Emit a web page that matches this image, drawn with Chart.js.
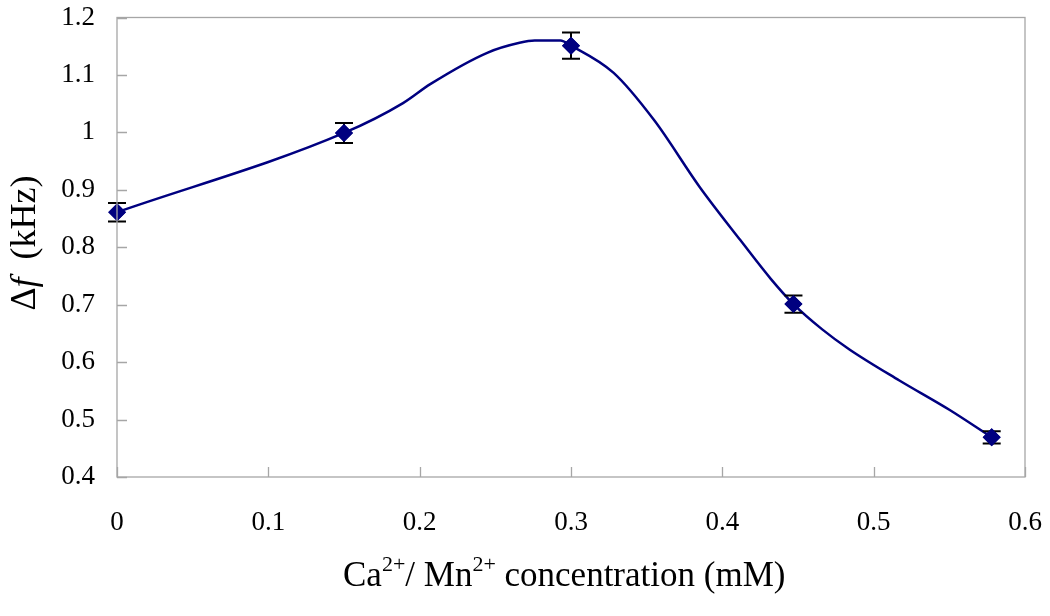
<!DOCTYPE html>
<html>
<head>
<meta charset="utf-8">
<script src="https://cdn.jsdelivr.net/npm/chart.js@4.4.1/dist/chart.umd.min.js"></script>
<style>
  html, body { margin: 0; padding: 0; background: #fff; }
  #wrap { width: 1050px; height: 616px; }
</style>
</head>
<body>
<div id="wrap"><canvas id="dfChart"></canvas></div>
<script>
// measured points (mean +/- error)
const concentration = [0, 0.15, 0.30, 0.447, 0.578];
const deltaF = [0.861, 0.999, 1.151, 0.701, 0.469];
const deltaFErr = [0.016, 0.0175, 0.023, 0.015, 0.0105];

// smooth trend curve drawn through the data
const curveX = [0, 0.15, 0.189, 0.207, 0.245, 0.266, 0.276, 0.293, 0.30, 0.328, 0.355, 0.385, 0.412, 0.432, 0.447, 0.466, 0.484, 0.517, 0.55, 0.578];
const curveY = [0.861, 0.999, 1.051, 1.084, 1.139, 1.156, 1.160, 1.160, 1.151, 1.104, 1.021, 0.905, 0.812, 0.745, 0.701, 0.657, 0.622, 0.568, 0.517, 0.469];

const xTicks = [0, 0.1, 0.2, 0.3, 0.4, 0.5, 0.6];
const xTickLabels = ['0', '0.1', '0.2', '0.3', '0.4', '0.5', '0.6'];
const yTicks = [0.4, 0.5, 0.6, 0.7, 0.8, 0.9, 1.0, 1.1, 1.2];
const yTickLabels = ['0.4', '0.5', '0.6', '0.7', '0.8', '0.9', '1', '1.1', '1.2'];

const SERIF = '"Liberation Serif", "Times New Roman", serif';
const AXIS_GRAY = '#a6a6a6';
const NAVY = '#000080';

// frame + inward tick marks
const framePlugin = {
    id: 'frame',
    afterDraw(chart) {
        const { ctx, chartArea: a, scales } = chart;
        ctx.save();
        ctx.strokeStyle = AXIS_GRAY;
        ctx.lineWidth = 1.3;
        ctx.strokeRect(a.left, a.top, a.right - a.left, a.bottom - a.top);
        ctx.beginPath();
        yTicks.forEach(v => {
            const y = Math.round(scales.y.getPixelForValue(v)) + 0.5;
            ctx.moveTo(a.left, y);
            ctx.lineTo(a.left + 10, y);
        });
        xTicks.forEach(v => {
            const x = Math.round(scales.x.getPixelForValue(v)) + 0.5;
            ctx.moveTo(x, a.bottom);
            ctx.lineTo(x, a.bottom - 10);
        });
        ctx.stroke();
        ctx.restore();
    }
};

// error bars, under the diamonds
const errorBarPlugin = {
    id: 'errorBars',
    afterDatasetsDraw(chart) {
        const { ctx, scales } = chart;
        ctx.save();
        ctx.strokeStyle = '#000';
        ctx.lineWidth = 2;
        concentration.forEach((c, i) => {
            const x = scales.x.getPixelForValue(c);
            const yTop = scales.y.getPixelForValue(deltaF[i] + deltaFErr[i]);
            const yBot = scales.y.getPixelForValue(deltaF[i] - deltaFErr[i]);
            ctx.beginPath();
            ctx.moveTo(x, yTop); ctx.lineTo(x, yBot);
            ctx.moveTo(x - 9, yTop); ctx.lineTo(x + 9, yTop);
            ctx.moveTo(x - 9, yBot); ctx.lineTo(x + 9, yBot);
            ctx.stroke();
        });
        // redraw the diamonds over the bars
        const meta = chart.getDatasetMeta(1);
        meta.data.forEach(pt => pt.draw(ctx, chart.chartArea));
        ctx.restore();
    }
};

// axis titles with italic f and superscripts
const titlePlugin = {
    id: 'axisTitles',
    afterDraw(chart) {
        const { ctx } = chart;
        ctx.save();
        ctx.fillStyle = '#000';
        ctx.textBaseline = 'alphabetic';

        // x title
        const big = '35px ' + SERIF, sup = '22px ' + SERIF;
        const parts = [
            ['Ca', big, 0], ['2+', sup, -15], ['/ Mn', big, 0], ['2+', sup, -15],
            [' concentration (mM)', big, 0]
        ];
        let x = 343;
        parts.forEach(p => {
            ctx.font = p[1];
            ctx.fillText(p[0], x, 586 + p[2]);
            x += ctx.measureText(p[0]).width;
        });

        // y title, rotated
        const ybig = '36px ' + SERIF;
        ctx.translate(35, 243);
        ctx.rotate(-Math.PI / 2);
        const yparts = [['\u0394', ybig], ['f', 'italic 36px ' + SERIF], ['  (kHz)', ybig]];
        let total = 0;
        yparts.forEach(p => { ctx.font = p[1]; total += ctx.measureText(p[0]).width; });
        x = -total / 2;
        yparts.forEach(p => {
            ctx.font = p[1];
            ctx.fillText(p[0], x, 0);
            x += ctx.measureText(p[0]).width;
        });
        ctx.restore();
    }
};

const ctx = document.getElementById('dfChart').getContext('2d');
new Chart(ctx, {
    type: 'scatter',
    data: {
        datasets: [{
            type: 'line',
            data: curveX.map((v, i) => ({ x: v, y: curveY[i] })),
            borderColor: NAVY,
            borderWidth: 2.5,
            pointRadius: 0,
            fill: false,
            cubicInterpolationMode: 'monotone'
        }, {
            data: concentration.map((v, i) => ({ x: v, y: deltaF[i] })),
            pointStyle: 'rectRot',
            pointRadius: 9,
            backgroundColor: NAVY,
            borderColor: NAVY,
            borderWidth: 0,
            showLine: false
        }]
    },
    options: {
        responsive: true,
        maintainAspectRatio: false,
        animation: false,
        layout: { padding: { top: 17.5, right: 25, left: 0, bottom: 0 } },
        plugins: {
            legend: { display: false },
            tooltip: { enabled: false }
        },
        scales: {
            x: {
                type: 'linear',
                min: 0,
                max: 0.6,
                grid: { display: false, drawTicks: false },
                border: { display: false },
                afterBuildTicks: s => { s.ticks = xTicks.map(v => ({ value: v })); },
                afterFit: s => { s.height = 139; s.paddingLeft = 0; s.paddingRight = 0; },
                ticks: {
                    padding: 30,
                    color: '#000',
                    font: { family: SERIF, size: 27 },
                    callback: (v, i) => xTickLabels[i]
                }
            },
            y: {
                min: 0.4,
                max: 1.2,
                grid: { display: false, drawTicks: false },
                border: { display: false },
                afterBuildTicks: s => { s.ticks = yTicks.map(v => ({ value: v })); },
                afterFit: s => { s.width = 117; s.paddingTop = 0; s.paddingBottom = 0; },
                ticks: {
                    padding: 22,
                    color: '#000',
                    font: { family: SERIF, size: 27 },
                    callback: (v, i) => yTickLabels[i]
                }
            }
        }
    },
    plugins: [errorBarPlugin, framePlugin, titlePlugin]
});
</script>
</body>
</html>
